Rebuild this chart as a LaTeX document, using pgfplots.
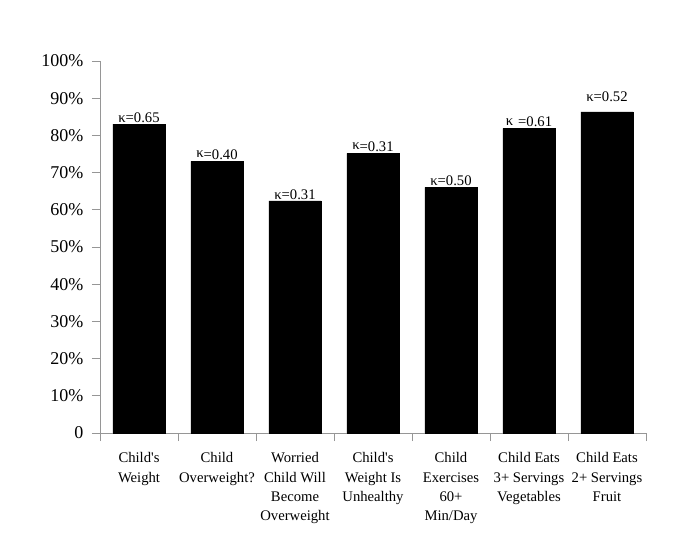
\documentclass[border=0pt]{standalone}
\usepackage{fontspec}
\setmainfont{Liberation Serif}
\usepackage{pgfplots}
\pgfplotsset{compat=1.18}
\definecolor{axisgray}{RGB}{150,150,150}
\begin{document}
\begin{tikzpicture}
% page = 685x554 px at 0.75pt/px, axis origin at px (100,433)
\useasboundingbox (-75pt,-90.75pt) rectangle (438.75pt,324.75pt);
\begin{axis}[
    at={(0,0)}, anchor=south west,
    scale only axis,
    width=409.5pt, height=279pt,
    xmin=-0.5, xmax=6.5,
    ymin=0, ymax=100,
    axis lines*=left,
    axis line style={draw=axisgray, -},
    tick style={draw=axisgray, line width=0.6pt},
    tick align=outside,
    major tick length=6pt,
    ytick={0,10,...,100},
    yticklabels={0,10\%,20\%,30\%,40\%,50\%,60\%,70\%,80\%,90\%,100\%},
    yticklabel style={font=\fontsize{13.5}{16}\selectfont, xshift=-3pt},
    xtick={-0.5,0.5,...,6.5},
    x tick label as interval,
    xticklabels={
        {Child\textquotesingle s\\Weight},
        {Child\\Overweight?},
        {Worried\\Child Will\\Become\\Overweight},
        {Child\textquotesingle s\\Weight Is\\Unhealthy},
        {Child\\Exercises\\60+\\Min/Day},
        {Child Eats\\3+ Servings\\Vegetables},
        {Child Eats\\2+ Servings\\Fruit}
    },
    xticklabel style={font=\fontsize{11}{14.6}\selectfont, align=center, anchor=north, yshift=-5pt},
    ybar,
    bar width=0.67,
    nodes near coords,
    point meta=explicit symbolic,
    nodes near coords style={font=\fontsize{11}{13}\selectfont, anchor=south, inner sep=1pt},
]
\addplot[fill=black, draw=black] coordinates {
    (0,83.0) [κ=0.65]
    (1,73.0) [\raisebox{1.5pt}{κ}=0.40]
    (2,62.4) [κ=0.31]
    (3,75.2) [\raisebox{1.5pt}{κ}=0.31]
    (4,66.0) [κ=0.50]
    (5,81.9) [\raisebox{1pt}{κ}\,\,=0.61]
    (6,86.3) [\raisebox{7pt}{κ=0.52}]
};
\end{axis}
\end{tikzpicture}
\end{document}
